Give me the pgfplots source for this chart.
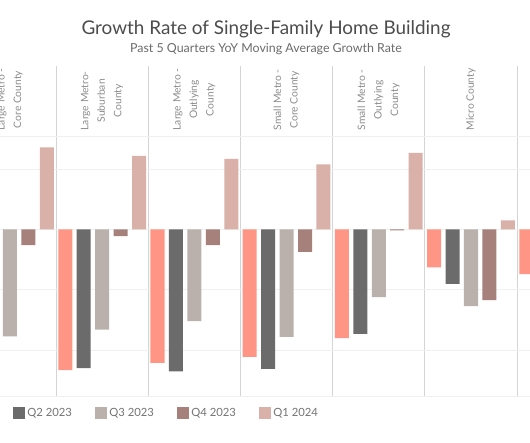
\documentclass[border=0pt]{standalone}
\usepackage{pgfplots}
\pgfplotsset{compat=1.18}
\usepackage{fontspec}
\setmainfont{Lato}
\definecolor{cQa}{RGB}{255,149,133}
\definecolor{cQb}{RGB}{107,107,107}
\definecolor{cQc}{RGB}{186,176,172}
\definecolor{cQd}{RGB}{166,128,122}
\definecolor{cQe}{RGB}{217,177,168}
\definecolor{sep}{RGB}{212,212,212}
\definecolor{grd}{RGB}{240,240,240}
\begin{document}
\begin{tikzpicture}
\useasboundingbox (0pt,0pt) rectangle (530pt,442pt);
\node[font=\fontsize{18.9}{21}\selectfont, text=black!70, anchor=base, inner sep=0pt] at (266pt,407pt) {Growth Rate of Single-Family Home Building};
\node[font=\fontsize{12.4}{14}\selectfont, text=black!58, anchor=base, inner sep=0pt] at (266pt,389pt) {Past 5 Quarters YoY Moving Average Growth Rate};
\begin{axis}[at={(0pt,46pt)}, anchor=south west, scale only axis, width=530pt, height=330pt,
 xmin=1.459, xmax=30.2, ymin=-27.6, ymax=27.1,
 ybar, bar width=0.76, bar shift=0pt,
 axis line style={draw=none},
 major tick length=0pt,
 xtick={4.5,9.5,14.5,19.5,24.5,29.5}, xticklabels={},
 ytick={-20,-10,0,10}, yticklabels={},
 extra y ticks={-27.6,15.5}, extra y tick labels={},
 xmajorgrids, ymajorgrids,
 x grid style={color=sep, line width=0.9pt},
 y grid style={color=grd, line width=0.8pt},
 extra y tick style={grid style={color=sep, line width=0.9pt}},
 legend columns=4,
 legend style={draw=none, fill=none, inner sep=0pt, outer sep=0pt,
   at={(0.0251,-0.0524)}, anchor=west,
   font=\fontsize{11.3}{13}\selectfont, text=black!55,
   /tikz/every even column/.append style={column sep=0pt}},
 legend image code/.code={\fill[#1] (0pt,-6pt) rectangle (12pt,6pt);},
 every axis plot/.append style={draw=none},
]
\addplot[fill=cQa, forget plot] coordinates {(5,-23.3) (10,-22.1) (15,-21.1) (20,-18.0) (25,-6.3) (30,-7.4)};
\addplot[fill=cQb] coordinates {(6,-23.0) (11,-23.5) (16,-23.1) (21,-17.3) (26,-9.0)};
\addlegendentry{\makebox[66pt][l]{Q2 2023}}
\addplot[fill=cQc] coordinates {(2,-17.7) (7,-16.6) (12,-15.2) (17,-17.8) (22,-11.2) (27,-12.7)};
\addlegendentry{\makebox[66pt][l]{Q3 2023}}
\addplot[fill=cQd] coordinates {(3,-2.6) (8,-1.1) (13,-2.6) (18,-3.7) (23,-0.15) (28,-11.7)};
\addlegendentry{\makebox[66pt][l]{Q4 2023}}
\addplot[fill=cQe] coordinates {(4,13.6) (9,12.2) (14,11.7) (19,10.8) (24,12.7) (29,1.5)};
\addlegendentry{\makebox[66pt][l]{Q1 2024}}
\tikzset{hdr/.style={rotate=90, anchor=west, align=center, inner sep=0pt, text=black!45, font=\fontsize{10.3}{16.5}\selectfont}}
\node[hdr] at (axis cs:2,16.4) {Large Metro -\\Core County};
\node[hdr] at (axis cs:7,16.4) {Large Metro-\\Suburban\\County};
\node[hdr] at (axis cs:12,16.4) {Large Metro -\\Outlying\\County};
\node[hdr] at (axis cs:17,16.4) {Small Metro -\\Core County};
\node[hdr] at (axis cs:22,16.4) {Small Metro -\\Outlying\\County};
\node[hdr] at (axis cs:27,16.4) {Micro County};
\end{axis}
\end{tikzpicture}
\end{document}
